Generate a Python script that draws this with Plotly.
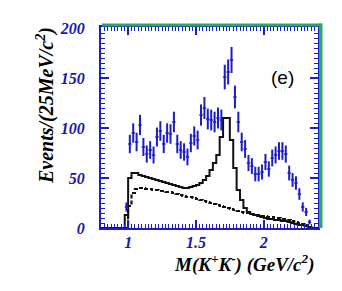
import plotly.graph_objects as go

# ---- data ----
bin_lo = [0.975, 1.000, 1.025, 1.050, 1.075, 1.100, 1.125, 1.150, 1.175, 1.200,
          1.225, 1.250, 1.275, 1.300, 1.325, 1.350, 1.375, 1.400, 1.425, 1.450,
          1.475, 1.500, 1.525, 1.550, 1.575, 1.600, 1.625, 1.650, 1.675, 1.700,
          1.725, 1.750, 1.775, 1.800, 1.825, 1.850, 1.875, 1.900, 1.925, 1.950,
          1.975, 2.000, 2.025, 2.050, 2.075, 2.100, 2.125, 2.150, 2.175, 2.200,
          2.225, 2.250, 2.275, 2.300, 2.325]
bin_width = 0.025

data_counts = [21, 84, 95, 86, 103, 81, 74, 78, 73, 91,
               97, 84, 95, 94, 106, 84, 78, 76, 71, 85,
               92, 88, 113, 120, 109, 108, 106, 110, 108, 151,
               156, 168, 131, 106, 86, 79, 65, 62, 54, 54,
               56, 66, 59, 70, 73, 77, 77, 74, 55, 48,
               45, 34, 21, 16, 6]
data_err = [4.6, 9.2, 9.7, 9.3, 10.1, 9.0, 8.6, 8.8, 8.5, 9.5,
            9.8, 9.2, 9.7, 9.7, 10.3, 9.2, 8.8, 8.7, 8.4, 9.2,
            9.6, 9.4, 10.6, 11.0, 10.4, 10.4, 10.3, 10.5, 10.4, 12.3,
            12.5, 13.0, 11.4, 10.3, 9.3, 8.9, 8.1, 7.9, 7.3, 7.3,
            7.5, 8.1, 7.7, 8.4, 8.5, 8.8, 8.8, 8.6, 7.4, 6.9,
            6.7, 5.8, 4.6, 4.0, 2.4]

solid_hist = [13, 50, 55, 55, 53, 52, 51, 50, 49, 48,
              47, 46, 45, 44, 43, 42, 41, 40, 40, 41,
              42, 43, 45, 48, 52, 58, 65, 73, 91, 110,
              110, 88, 60, 38, 28, 20, 16, 14, 13, 12,
              11, 10, 9, 9, 8, 8, 7, 7, 6, 5,
              4, 3, 3, 2, 1]
dashed_hist = [0, 22, 35, 39, 40, 40, 39, 39, 38, 38,
               37, 37, 36, 36, 35, 34, 33, 32, 31, 31,
               30, 29, 28, 27, 26, 25, 24, 23, 22, 21,
               20, 19, 18, 17, 16, 15, 15, 14, 13, 13,
               12, 12, 11, 11, 10, 10, 9, 9, 8, 7,
               6, 5, 4, 3, 1]

x_range = [0.8, 2.4]
y_range = [0, 201]
x_ticks = [1, 1.5, 2]
x_ticklabels = ["1", "1.5", "2"]
y_ticks = [0, 50, 100, 150, 200]
y_ticklabels = ["0", "50", "100", "150", "200"]

# ---- derived ----
centers = [lo + bin_width / 2 for lo in bin_lo]
edges = [x_range[0]] + bin_lo + [bin_lo[-1] + bin_width, x_range[1]]
solid_y = [0] + solid_hist + [0, 0]
dashed_y = [0] + dashed_hist + [0, 0]

BLUE = "#1c1cc8"
TICKBLUE = "#1616b8"
GREEN = "#2aa866"
SERIF = "Liberation Serif"

fig = go.Figure()

fig.add_trace(go.Scatter(
    x=edges, y=dashed_y, mode="lines", line_shape="hv",
    line=dict(color="#111111", width=2.2, dash="4px,2px"),
    showlegend=False, hoverinfo="skip"))
fig.add_trace(go.Scatter(
    x=edges, y=solid_y, mode="lines", line_shape="hv",
    line=dict(color="#111111", width=2),
    showlegend=False, hoverinfo="skip"))
fig.add_trace(go.Scatter(
    x=centers, y=data_counts, mode="markers",
    marker=dict(size=1, color=BLUE),
    error_y=dict(type="data", array=data_err, color=BLUE, thickness=2, width=0),
    error_x=dict(type="constant", value=bin_width / 2, color=BLUE, thickness=1.5, width=0),
    showlegend=False))

axis_common = dict(
    showline=True, linecolor=BLUE, linewidth=2, mirror="ticks",
    ticks="inside", tickcolor=BLUE, tickwidth=1.5, ticklen=8,
    showgrid=False, zeroline=False,
    tickfont=dict(family=SERIF, size=16, color=TICKBLUE, weight="bold", style="italic"),
)

fig.update_xaxes(range=x_range, tickvals=x_ticks, ticktext=x_ticklabels,
                 ticklabelstandoff=-1,
                 minor=dict(dtick=0.025, ticks="inside", ticklen=4, tickcolor=BLUE, tickwidth=1),
                 **axis_common)
fig.update_yaxes(range=y_range, tickvals=y_ticks, ticktext=y_ticklabels,
                 ticklabelstandoff=11,
                 minor=dict(dtick=5, ticks="inside", ticklen=4, tickcolor=BLUE, tickwidth=1),
                 **axis_common)

# page body margin offset (browser default 8px)
OFF = 8
W, H = 342 - OFF, 291 - OFF
L, R, T, B = 101 - OFF, 24, 27 - OFF, 63
pw, ph = W - L - R, H - T - B


def px2paper(px, py):
    """screen pixel -> paper coords"""
    return (px - OFF - L) / pw, (H - B - (py - OFF)) / ph


# green bevel (top and right)
x0, y0 = px2paper(102, 23.5)
x1, y1 = px2paper(322, 26.5)
fig.add_shape(type="rect", xref="paper", yref="paper", x0=x0, x1=x1, y0=y1, y1=y0,
              fillcolor=GREEN, line=dict(width=0), layer="above")
x0, y0 = px2paper(319, 23.5)
x1, y1 = px2paper(322.5, 228)
fig.add_shape(type="rect", xref="paper", yref="paper", x0=x0, x1=x1, y0=y1, y1=y0,
              fillcolor=GREEN, line=dict(width=0), layer="above")

ax, ay = px2paper(45, 106)
fig.add_annotation(xref="paper", yref="paper", x=ax, y=ay, showarrow=False,
                   xanchor="center", yanchor="middle",
                   text="Events/(25MeV/c<sup>2</sup>)", textangle=-90,
                   font=dict(family=SERIF, size=20, color="black", weight="bold", style="italic"))
ax, ay = px2paper(244, 263)
fig.add_annotation(xref="paper", yref="paper", x=ax, y=ay, showarrow=False,
                   xanchor="center", yanchor="middle",
                   text="M(K<sup>+</sup>K<sup>-</sup>) (GeV/c<sup>2</sup>)",
                   font=dict(family=SERIF, size=19, color="black", weight="bold", style="italic"))
fig.add_annotation(xref="x", yref="y", x=2.14, y=151, showarrow=False,
                   xanchor="center", yanchor="middle",
                   text="(e)", font=dict(family="Liberation Sans", size=19, color="black"))

fig.update_layout(
    width=W, height=H,
    margin=dict(l=L, r=R, t=T, b=B),
    paper_bgcolor="white", plot_bgcolor="white",
)

fig.write_html("out.html")
